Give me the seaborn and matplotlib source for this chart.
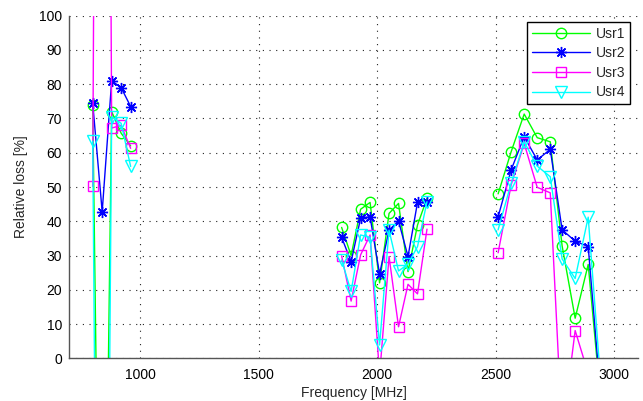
import matplotlib
matplotlib.use("Agg")
import matplotlib.pyplot as plt
from matplotlib.lines import Line2D
import seaborn as sns
import pandas as pd

# Measurement frequencies per band [MHz]
freq_800 = [800, 840, 880, 920, 960]
freq_1900 = [1850, 1890, 1930, 1970, 2010, 2050, 2090, 2130, 2170, 2210]
freq_2600 = [2510, 2565, 2620, 2675, 2730, 2780, 2835, 2890, 2945]

users = ["Usr1", "Usr2", "Usr3", "Usr4"]

# Relative loss [%] per user and band
usr1_800 = [74, -140, 72, 65.7, 62]
usr2_800 = [74.5, 42.8, 81, 79, 73.5]
usr3_800 = [50.2, 600, 67.2, 68, 61.3]
usr4_800 = [63.4, -280, 70.5, 68.6, 56]

usr1_1900 = [38.2, 30, 43.5, 45.5, 22, 42.3, 45.2, 25.3, 38.9, 46.7]
usr2_1900 = [35.3, 28.2, 40.9, 41.3, 24.6, 37.4, 40.1, 29.7, 45.5, 45.5]
usr3_1900 = [29.9, 16.7, 30.2, 36, -5, 29.7, 9.2, 21.6, 18.8, 37.7]
usr4_1900 = [28.7, 19.5, 36, 35.3, 3.9, 37.4, 25.5, 27.5, 32.6, 45.7]

usr1_2600 = [48, 60.3, 71.3, 64.4, 63.2, 32.8, 11.7, 27.4, -14]
usr2_2600 = [41.3, 55, 64.7, 57.9, 61, 37.5, 34.2, 32.6, -13]
usr3_2600 = [30.8, 50.6, 62.7, 49.9, 48.3, -22, 8.1, -4.4, -10]
usr4_2600 = [37.5, 51.1, 63.2, 56.1, 53, 29, 23.3, 41.2, -9]

colors = {"Usr1": "#00ff00", "Usr2": "#0000ff", "Usr3": "#ff00ff", "Usr4": "#00ffff"}
markers = {"Usr1": "o", "Usr2": (8, 2, 0), "Usr3": "s", "Usr4": "v"}
msizes = {"Usr1": 7.5, "Usr2": 8, "Usr3": 6.5, "Usr4": 8.5}

series = {
    "Usr1": [usr1_800, usr1_1900, usr1_2600],
    "Usr2": [usr2_800, usr2_1900, usr2_2600],
    "Usr3": [usr3_800, usr3_1900, usr3_2600],
    "Usr4": [usr4_800, usr4_1900, usr4_2600],
}
bands = [("800", freq_800), ("1900", freq_1900), ("2600", freq_2600)]

rows = []
for user in users:
    for (band, freqs), vals in zip(bands, series[user]):
        for f, v in zip(freqs, vals):
            rows.append({"user": user, "band": band, "freq": f, "loss": v})
df = pd.DataFrame(rows)

sns.set_style("white")
plt.rcParams["font.family"] = ["Liberation Sans", "DejaVu Sans"]

fig = plt.figure(figsize=(6.43, 4.01), dpi=100)
ax = fig.add_axes([0.1073, 0.1065, 0.8849, 0.8543])

for user in users:
    c = colors[user]
    sns.lineplot(
        data=df[df["user"] == user], x="freq", y="loss",
        units="band", estimator=None, sort=False, legend=False, ax=ax,
        color=c, marker=markers[user], markersize=msizes[user],
        markeredgecolor=c, markerfacecolor="none", markeredgewidth=1.0,
        linewidth=1.0, clip_on=True,
    )

ax.set_xlim(700, 3100)
ax.set_ylim(0, 100)
ax.set_xticks([1000, 1500, 2000, 2500, 3000])
ax.set_yticks(range(0, 101, 10))

grid_kw = dict(color="#222222", linewidth=0.8, linestyle=(0, (1, 5)))
ax.grid(True, **grid_kw)
ax.set_axisbelow(True)

for side in ["top", "right"]:
    ax.spines[side].set_visible(False)
for side in ["left", "bottom"]:
    ax.spines[side].set_color("#555555")
    ax.spines[side].set_linewidth(1.0)

ax.tick_params(axis="both", direction="in", length=3, width=0.8,
               colors="#555555", labelcolor="black", labelsize=10)
ax.tick_params(axis="x", pad=7)
ax.tick_params(axis="y", pad=5)
ax.set_xlabel("Frequency [MHz]", fontsize=10, labelpad=3)
ax.set_ylabel("Relative loss [%]", fontsize=10, labelpad=8)

handles = [
    Line2D([], [], color=colors[u], marker=markers[u], markersize=msizes[u],
           markeredgecolor=colors[u], markerfacecolor="none",
           markeredgewidth=1.0, linewidth=1.0)
    for u in users
]
leg = ax.legend(handles, users, loc="upper right", bbox_to_anchor=(0.986, 0.982),
                borderaxespad=0, fontsize=10, handlelength=4.2, handletextpad=0.4,
                labelspacing=0.4, borderpad=0.35, fancybox=False, framealpha=1)
leg.get_frame().set_edgecolor("black")
leg.get_frame().set_linewidth(1.0)

fig.savefig("out.png", dpi=100)
